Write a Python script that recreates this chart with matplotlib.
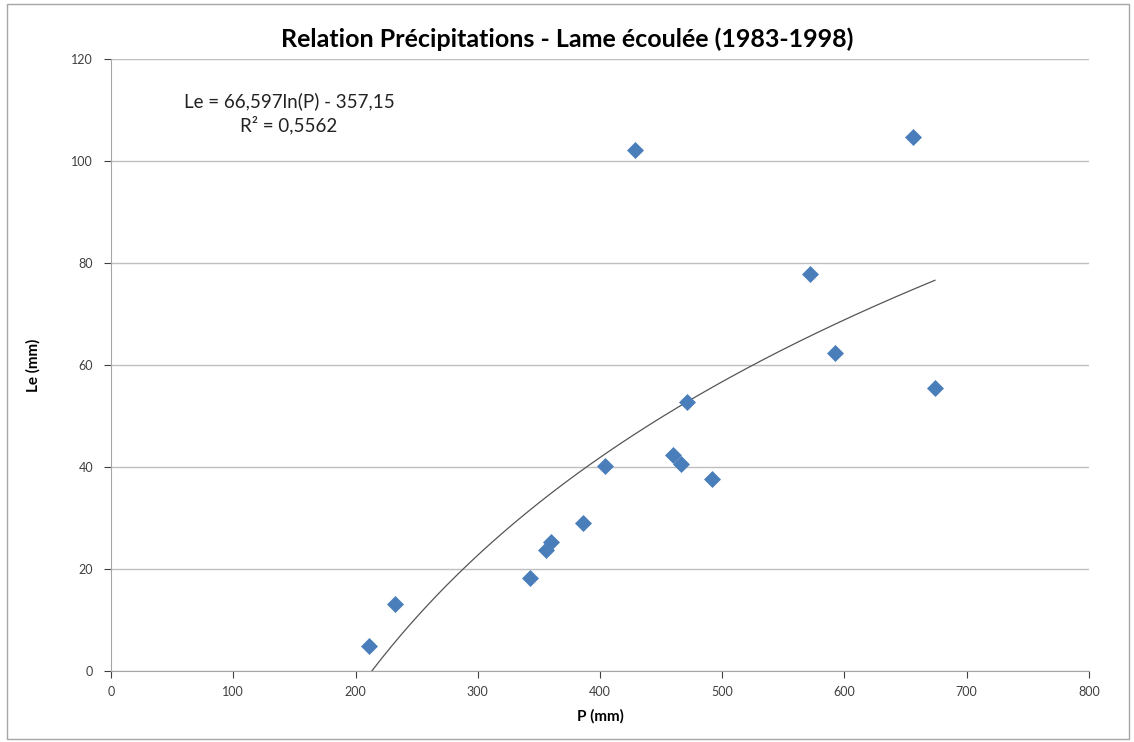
import numpy as np
import matplotlib.pyplot as plt
from matplotlib.patches import Rectangle

# Donnees (1983-1998)
precip = [211, 232, 343, 356, 360, 386, 404, 429, 460, 466, 471, 492, 572, 592, 656, 674]
lame = [4.9, 13.1, 18.2, 23.7, 25.2, 29.0, 40.1, 102.2, 42.4, 40.5, 52.8, 37.7, 77.9, 62.4, 104.8, 55.5]

# Courbe de tendance logarithmique (equation affichee)
coef_a = 66.597
coef_b = -357.15
r2 = 0.5562

x_ticks = [0, 100, 200, 300, 400, 500, 600, 700, 800]
y_ticks = [0, 20, 40, 60, 80, 100, 120]

plt.rcParams['font.family'] = ['Lato', 'DejaVu Sans']

fig = plt.figure(figsize=(11.34, 7.42), dpi=100)
ax = fig.add_axes([0.0979, 0.0957, 0.8624, 0.8248])

ax.grid(axis='y', color='#bfbfbf', linewidth=1.0)
ax.set_axisbelow(True)

p0 = np.exp(-coef_b / coef_a)
xs = np.linspace(p0, max(precip), 300)
ax.plot(xs, coef_a * np.log(xs) + coef_b, color='#555555', linewidth=0.9)

ax.scatter(precip, lame, marker='D', s=75, color='#4a7ebb', zorder=3, linewidths=0)

ax.set_xlim(0, 800)
ax.set_ylim(0, 120)
ax.set_xticks(x_ticks)
ax.set_yticks(y_ticks)
ax.tick_params(axis='both', labelsize=9, colors='#404040', length=5, width=0.8)
ax.tick_params(axis='x', pad=6)
ax.tick_params(axis='y', pad=8)

for side in ['top', 'right']:
    ax.spines[side].set_visible(False)
for side in ['left', 'bottom']:
    ax.spines[side].set_color('#a6a6a6')

ax.set_xlabel('P (mm)', fontsize=11, fontweight='bold', labelpad=8)
ax.set_ylabel('Le (mm)', fontsize=11, fontweight='bold', labelpad=22)

fig.suptitle('Relation Précipitations - Lame écoulée (1983-1998)', fontsize=18, fontweight='bold', y=0.963)

ax.text(0.182, 0.911, 'Le = 66,597ln(P) - 357,15\nR² = 0,5562', transform=ax.transAxes,
        ha='center', va='center', fontsize=13.5, linespacing=1.4, color='#222222')

fig.patches.append(Rectangle((0.006, 0.004), 0.99, 0.99, transform=fig.transFigure,
                             fill=False, edgecolor='#a6a6a6', linewidth=1.0))

fig.savefig('out.png', dpi=100)
